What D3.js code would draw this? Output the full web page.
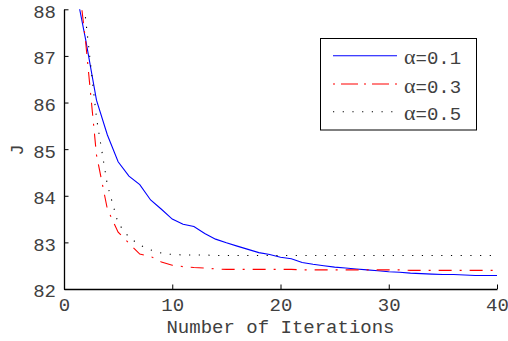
<!DOCTYPE html>
<html>
<head>
<meta charset="utf-8">
<script src="https://cdn.jsdelivr.net/npm/d3@7"></script>
<style>
  html, body { margin: 0; padding: 0; background: #fff; }
  svg { display: block; }
</style>
</head>
<body>
<svg id="chart" width="508" height="341"></svg>
<script>
// ---- data ----
const iterations = [1,2,3,4,5,6,7,8,9,10,11,12,13,14,15,16,17,18,19,20,21,22,23,24,25,26,27,28,29,30,31,32,33,34,35,36,37,38,39,40];
const alpha01 = [88.53, 87.35, 86.05, 85.31, 84.73, 84.42, 84.24, 83.91, 83.71, 83.50,
                 83.39, 83.34, 83.19, 83.07, 82.99, 82.92, 82.85, 82.78, 82.74, 82.68,
                 82.65, 82.57, 82.53, 82.50, 82.47, 82.45, 82.43, 82.41, 82.39, 82.37,
                 82.36, 82.34, 82.33, 82.32, 82.31, 82.31, 82.30, 82.29, 82.29, 82.29];
const alpha03 = [89.30, 87.30, 84.88, 83.72, 83.22, 82.98, 82.75, 82.70, 82.58, 82.51,
                 82.48, 82.46, 82.45, 82.43, 82.42, 82.42, 82.42, 82.42, 82.42, 82.42,
                 82.42, 82.41, 82.41, 82.41, 82.41, 82.41, 82.41, 82.41, 82.41, 82.41,
                 82.41, 82.40, 82.40, 82.40, 82.40, 82.40, 82.40, 82.40, 82.40, 82.40];
const alpha05 = [89.90, 87.79, 85.67, 84.24, 83.41, 83.11, 82.94, 82.84, 82.77, 82.74,
                 82.73, 82.73, 82.73, 82.72, 82.72, 82.72, 82.72, 82.72, 82.72, 82.72,
                 82.72, 82.72, 82.72, 82.72, 82.72, 82.72, 82.72, 82.72, 82.72, 82.72,
                 82.72, 82.72, 82.72, 82.72, 82.72, 82.72, 82.72, 82.72, 82.72, 82.72];
const seriesLabels = ["0.1", "0.3", "0.5"];
const xTicks = [0, 10, 20, 30, 40];
const yTicks = [82, 83, 84, 85, 86, 87, 88];
const xLabel = "Number of Iterations";
const yLabel = "J";

(function () {
// ---- layout ----
const svg = d3.select("#chart");
const pLeft = 64, pRight = 497, pTop = 9.3, pBottom = 289;
const x = d3.scaleLinear().domain([0, 40]).range([pLeft, pRight]);
const y = d3.scaleLinear().domain([82, 88]).range([pBottom, pTop]);
const monoFont = "'Liberation Mono', 'DejaVu Sans Mono', monospace";
const textColor = "#404040";

svg.append("defs").append("clipPath").attr("id", "plotclip")
  .append("rect").attr("x", pLeft).attr("y", pTop).attr("width", pRight - pLeft).attr("height", pBottom - pTop);

const styles = [
  { color: "#0000ff", dash: null, legendDash: null },
  { color: "#ff0000", dash: "13,8,2,8", legendDash: "2,6,17,6" },
  { color: "#000000", dash: "1.2,8.5", legendDash: "1.2,8.5" }
];
const allSeries = [alpha01, alpha03, alpha05];

const line = d3.line().x((d, i) => x(iterations[i])).y(d => y(d));
const g = svg.append("g").attr("clip-path", "url(#plotclip)");
allSeries.forEach((s, k) => {
  g.append("path").datum(s)
    .attr("d", line)
    .attr("fill", "none")
    .attr("stroke", styles[k].color)
    .attr("stroke-width", 1.1)
    .attr("stroke-dasharray", styles[k].dash);
});

// ---- axes ----
const xAxis = d3.axisBottom(x).tickValues(xTicks).tickFormat(d3.format("d"))
  .tickSizeInner(-4.5).tickSizeOuter(0).tickPadding(9);
const yAxis = d3.axisLeft(y).tickValues(yTicks).tickFormat(d3.format("d"))
  .tickSizeInner(-4.5).tickSizeOuter(0).tickPadding(8);

const gx = svg.append("g").attr("transform", `translate(0,${pBottom})`).call(xAxis);
const gy = svg.append("g").attr("transform", `translate(${pLeft},0)`).call(yAxis);
[gx, gy].forEach(ax => {
  ax.select(".domain").attr("stroke", "#000").attr("stroke-width", 1.3);
  ax.selectAll(".tick line").attr("stroke", "#000").attr("stroke-width", 1);
  ax.selectAll("text").attr("font-family", monoFont).attr("font-size", 19).attr("fill", textColor);
});
gy.selectAll("text").attr("dy", "0.42em");

svg.append("text")
  .attr("x", (pLeft + pRight) / 2).attr("y", 333)
  .attr("text-anchor", "middle")
  .attr("font-family", monoFont).attr("font-size", 19).attr("fill", textColor)
  .text(xLabel);

svg.append("text")
  .attr("transform", "translate(23,150) rotate(-90)")
  .attr("text-anchor", "middle")
  .attr("font-family", monoFont).attr("font-size", 19).attr("fill", textColor)
  .text(yLabel);

// ---- legend ----
const lg = svg.append("g");
lg.append("rect").attr("x", 320.5).attr("y", 38.5).attr("width", 156).attr("height", 91.5)
  .attr("fill", "#fff").attr("stroke", "#000").attr("stroke-width", 1);
const legendY = [55.7, 84, 111.7];
seriesLabels.forEach((lab, k) => {
  lg.append("line").attr("x1", 333).attr("x2", 397).attr("y1", legendY[k]).attr("y2", legendY[k])
    .attr("stroke", styles[k].color).attr("stroke-width", 1.1)
    .attr("stroke-dasharray", styles[k].legendDash);
  const t = lg.append("text").attr("x", 404).attr("y", legendY[k] + 8.6).attr("fill", textColor);
  t.append("tspan").attr("font-family", "'Liberation Serif', 'DejaVu Serif', serif").attr("font-size", 22).text("α");
  t.append("tspan").attr("font-family", monoFont).attr("font-size", 19).text("=" + lab);
});
})();
</script>
</body>
</html>
